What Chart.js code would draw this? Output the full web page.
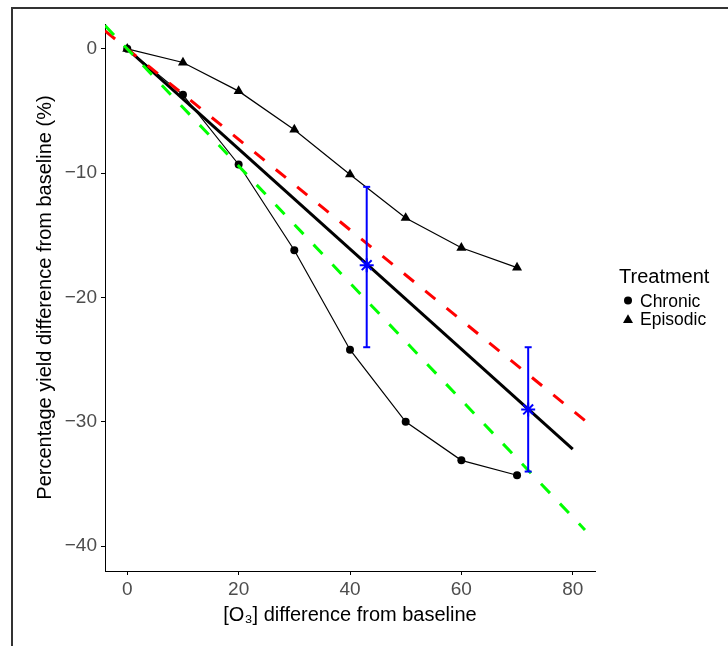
<!DOCTYPE html>
<html>
<head>
<meta charset="utf-8">
<script src="https://cdn.jsdelivr.net/npm/chart.js@4/dist/chart.umd.min.js"></script>
<style>
  html, body { margin: 0; padding: 0; background: #fff; }
  #wrap { position: relative; width: 728px; height: 646px; overflow: hidden; }
  #frame { position: absolute; left: 11px; top: 7px; width: 900px; height: 900px;
           border-top: 2px solid #333; border-left: 2px solid #333; pointer-events: none; }
</style>
</head>
<body>
<div id="wrap">
  <canvas id="c" width="728" height="646"></canvas>
  <div id="frame"></div>
</div>
<script>
// ---- data ----
const xTicks = [0, 20, 40, 60, 80];
const yTicks = [0, -10, -20, -30, -40];
const doses = [0, 10, 20, 30, 40, 50, 60, 70];
const chronic = [0, -3.7, -9.3, -16.2, -24.2, -30.0, -33.1, -34.3];
const episodic = [0, -1.1, -3.4, -6.5, -10.1, -13.6, -16.0, -17.6];
const fitX = [0, 80];
const fitY = [0, -32.2];
const redX = [-4, 82.2];
const redY = [1.45, -29.9];
const greenX = [-4, 82.2];
const greenY = [1.88, -38.7];
const estX = [43, 72];
const estY = [-17.4, -29.0];
const estLo = [-24.0, -34.0];
const estHi = [-11.1, -24.0];
const seriesNames = ['Chronic', 'Episodic'];
const legendTitle = 'Treatment';

const pts = (xs, ys) => xs.map((x, i) => ({ x: x, y: ys[i] }));
const FONT = "'Liberation Sans', Arial, sans-serif";

const errSets = estX.map((x, i) => ({
  label: 'err' + i,
  data: [{ x: x, y: estHi[i] }, { x: x, y: estLo[i] }],
  showLine: true, borderColor: '#0000FF', borderWidth: 2,
  pointStyle: 'line', pointRadius: 3.5, pointBorderWidth: 2,
  pointBorderColor: '#0000FF', pointBackgroundColor: '#0000FF'
}));

const datasets = [
  { label: 'est', data: pts(estX, estY), showLine: false,
    pointStyle: 'star', pointRadius: 7, pointBorderWidth: 2,
    pointBorderColor: '#0000FF', pointBackgroundColor: '#0000FF' },
  ...errSets,
  { label: 'green', data: pts(greenX, greenY), showLine: true,
    borderColor: '#00FF00', borderWidth: 3, borderDash: [13, 14.5], pointRadius: 0 },
  { label: 'red', data: pts(redX, redY), showLine: true,
    borderColor: '#FF0000', borderWidth: 3, borderDash: [13, 14.5], pointRadius: 0 },
  { label: 'fit', data: pts(fitX, fitY), showLine: true,
    borderColor: '#000', borderWidth: 3, pointRadius: 0 },
  { label: seriesNames[1], data: pts(doses, episodic), showLine: true,
    borderColor: '#000', borderWidth: 1.2, pointStyle: 'triangle', pointRadius: 5.8,
    pointBorderWidth: 0, pointBackgroundColor: '#000' },
  { label: seriesNames[0], data: pts(doses, chronic), showLine: true,
    borderColor: '#000', borderWidth: 1.2, pointStyle: 'circle', pointRadius: 4,
    pointBorderWidth: 0, pointBackgroundColor: '#000' }
];

const legendPlugin = {
  id: 'customLegend',
  afterDraw(chart) {
    const ctx = chart.ctx;
    ctx.save();
    ctx.fillStyle = '#000';
    ctx.textAlign = 'left';
    ctx.textBaseline = 'alphabetic';
    ctx.font = '20px ' + FONT;
    ctx.fillText(legendTitle, 619, 283);
    ctx.font = '17.5px ' + FONT;
    ctx.fillText(seriesNames[0], 640, 307);
    ctx.fillText(seriesNames[1], 640, 324.5);
    // keys
    ctx.beginPath();
    ctx.arc(628, 300.5, 4, 0, Math.PI * 2);
    ctx.fill();
    const r = 5.8, cx = 628, cy = 320;
    ctx.beginPath();
    for (let k = 0; k < 3; k++) {
      const a = k * 2 * Math.PI / 3;
      const px = cx + Math.sin(a) * r, py = cy - Math.cos(a) * r;
      if (k === 0) ctx.moveTo(px, py); else ctx.lineTo(px, py);
    }
    ctx.closePath();
    ctx.fill();
    ctx.restore();
  }
};

new Chart(document.getElementById('c'), {
  type: 'scatter',
  data: { datasets: datasets },
  plugins: [legendPlugin],
  options: {
    responsive: false,
    animation: false,
    events: [],
    layout: { padding: { left: 0, right: 133, top: 24, bottom: 0 } },
    plugins: { legend: { display: false }, tooltip: { enabled: false } },
    scales: {
      x: {
        type: 'linear', position: 'bottom', min: -4, max: 84,
        afterBuildTicks: s => { s.ticks = xTicks.map(v => ({ value: v })); },
        afterFit: s => { s.height = 75; },
        grid: { drawOnChartArea: false, drawTicks: true, tickLength: 4, color: '#000', lineWidth: 1 },
        border: { display: true, color: '#000', width: 1 },
        ticks: { color: '#4D4D4D', font: { size: 19, family: FONT }, padding: 3, maxRotation: 0 },
        title: { display: true, text: '[O\u2083] difference from baseline', color: '#000',
                 font: { size: 20, family: FONT }, padding: { top: 0, bottom: 19 } }
      },
      y: {
        type: 'linear', position: 'left', min: -42, max: 2,
        afterBuildTicks: s => { s.ticks = yTicks.map(v => ({ value: v })); },
        afterFit: s => { s.width = 105; },
        grid: { drawOnChartArea: false, drawTicks: true, tickLength: 4, color: '#000', lineWidth: 1 },
        border: { display: true, color: '#000', width: 1 },
        ticks: { color: '#4D4D4D', font: { size: 19, family: FONT }, padding: 4,
                 callback: v => (v < 0 ? '\u2212' + Math.abs(v) : String(v)) },
        title: { display: true, text: 'Percentage yield difference from baseline (%)', color: '#000',
                 font: { size: 20, family: FONT }, padding: { top: 33, bottom: 0 } }
      }
    }
  }
});
</script>
</body>
</html>
